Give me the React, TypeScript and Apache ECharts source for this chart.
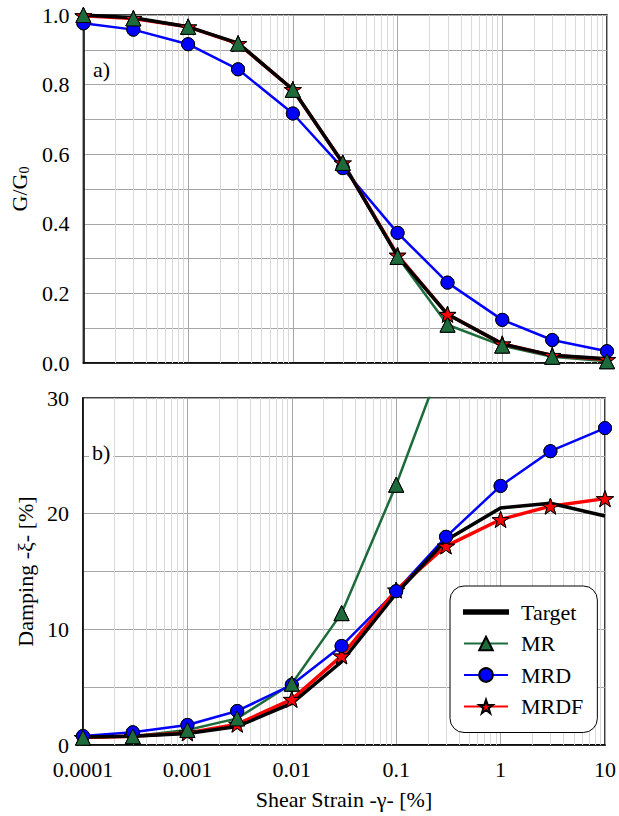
import React, { useEffect, useRef } from "react";
import * as echarts from "echarts";

const strain = [0.0001, 0.0003, 0.001, 0.003, 0.01, 0.03, 0.1, 0.3, 1, 3, 10];

const ggTarget = [1.0, 0.992, 0.966, 0.919, 0.786, 0.575, 0.307, 0.14, 0.055, 0.022, 0.012];
const ggMR = [1.0, 0.99, 0.966, 0.918, 0.785, 0.575, 0.305, 0.11, 0.05, 0.018, 0.005];
const ggMRD = [0.976, 0.958, 0.916, 0.844, 0.717, 0.56, 0.374, 0.231, 0.124, 0.066, 0.034];
const ggMRDF = [0.998, 0.99, 0.966, 0.918, 0.786, 0.575, 0.31, 0.14, 0.055, 0.022, 0.01];

const dTarget = [0.7, 0.75, 1.0, 1.6, 3.6, 7.2, 13.1, 17.7, 20.5, 20.9, 19.8];
const dMR = [0.63, 0.75, 1.3, 2.3, 5.3, 11.4, 22.5, 34, null, null, null];
const dMRD = [0.78, 1.1, 1.73, 2.94, 5.2, 8.56, 13.3, 18.0, 22.4, 25.4, 27.4];
const dMRDF = [0.65, 0.75, 1.05, 1.8, 3.95, 7.7, 13.4, 17.2, 19.5, 20.65, 21.3];

const decades = [0.0001, 0.001, 0.01, 0.1, 1];
const minorMultipliers = [2, 3, 4, 5, 6, 7, 8, 9];

const FONT = "Liberation Serif";
const GREEN = "#1d6b3b";
const BLUE = "#0000ff";
const RED = "#ff0000";
const STAR =
  "path://M50,0 L61.8,35.1 L98.9,35.1 L69.1,56.7 L80.3,91.9 L50,70 L19.7,91.9 L30.9,56.7 L1.1,35.1 L38.2,35.1 Z";
const LINE_ICON = "path://M0,0 M44,17 M0,6.75 L44,6.75 L44,10.25 L0,10.25 Z";

function pairs(vals: (number | null)[]) {
  return strain.map((x, i) => [x, vals[i]]);
}

export default function App() {
  const ref = useRef<HTMLDivElement>(null);
  useEffect(() => {
    if (!ref.current) return;
    const chart = echarts.init(ref.current, undefined, { renderer: "svg" });
    const minorX: number[][] = [];
    decades.forEach((d) => minorMultipliers.forEach((m) => minorX.push([d * m, 0])));

    const grids = [
      { left: 83, top: 15, width: 524, height: 348 },
      { left: 83, top: 398, width: 524, height: 347 },
    ];

    const xAxisBase = (gi: number, showLabel: boolean) => ({
      type: "log",
      logBase: 10,
      gridIndex: gi,
      min: 0.0001,
      max: 10,
      axisLine: { show: true, lineStyle: { color: "#000", width: 1.5 } },
      axisTick: { show: false },
      splitLine: { show: true, lineStyle: { color: "#a6a6a6", width: 1 } },
      axisLabel: {
        show: showLabel,
        fontFamily: FONT,
        fontSize: 22,
        color: "#000",
        margin: 13,
        formatter: (v: number) => String(Number(v.toPrecision(1))),
      },
      name: showLabel ? "Shear Strain -γ- [%]" : "",
      nameLocation: "middle",
      nameGap: 43,
      nameTextStyle: { fontFamily: FONT, fontSize: 22, color: "#000" },
    });

    const minorSeries = (gi: number) => ({
      type: "custom",
      xAxisIndex: gi,
      yAxisIndex: gi,
      silent: true,
      z: 1,
      data: minorX,
      clip: true,
      renderItem: (params: any, api: any) => {
        const cs = params.coordSys;
        const x = Math.round(api.coord([api.value(0), gi === 0 ? 0.5 : 15])[0]) + 0.5;
        return {
          type: "line",
          shape: { x1: x, y1: cs.y, x2: x, y2: cs.y + cs.height },
          style: { stroke: "#d9d9d9", lineWidth: 1 },
        };
      },
    });

    const lineSeries = (
      gi: number,
      name: string,
      vals: (number | null)[],
      color: string,
      width: number,
      symbol: string,
      size: number,
      z: number
    ) => ({
      type: "line",
      name,
      xAxisIndex: gi,
      yAxisIndex: gi,
      data: pairs(vals),
      z,
      clip: true,
      symbol,
      symbolSize: size,
      symbolKeepAspect: true,
      showSymbol: symbol !== "none",
      lineStyle: { color, width },
      itemStyle: { color, borderColor: "#000", borderWidth: 1 },
      emphasis: { disabled: true },
    });

    const markerSeries = (
      gi: number,
      vals: (number | null)[],
      color: string,
      symbol: string,
      size: number,
      z: number
    ) => ({
      type: "scatter",
      xAxisIndex: gi,
      yAxisIndex: gi,
      data: pairs(vals).filter((p) => p[1] !== null),
      z,
      silent: true,
      clip: true,
      symbol,
      symbolSize: size,
      symbolKeepAspect: true,
      itemStyle: { color, borderColor: "#000", borderWidth: 1, opacity: 1 },
    });

    const series: any[] = [];
    [0, 1].forEach((gi) => {
      const T = gi === 0 ? ggTarget : dTarget;
      const A = gi === 0 ? ggMR : dMR;
      const B = gi === 0 ? ggMRD : dMRD;
      const C = gi === 0 ? ggMRDF : dMRDF;
      series.push(minorSeries(gi));
      series.push(lineSeries(gi, "Target", T, "#000", 3.5, "none", 0, 5));
      series.push(lineSeries(gi, "MR", A, GREEN, 2.5, "triangle", 15, 3));
      series.push(lineSeries(gi, "MRD", B, BLUE, 2.5, "circle", 13, 3));
      series.push(lineSeries(gi, "MRDF", C, RED, 3.5, STAR, 17, 4));
      series.push(markerSeries(gi, C, RED, STAR, 17, 6));
      series.push(markerSeries(gi, B, BLUE, "circle", 13, 7));
      series.push(markerSeries(gi, A, GREEN, "triangle", 15, 8));
    });

    const yLabel = {
      fontFamily: FONT,
      fontSize: 22,
      color: "#000",
      margin: 14,
    };

    chart.setOption({
      animation: false,
      backgroundColor: "#fff",
      grid: grids.map((g) => ({
        ...g,
        show: true,
        borderColor: "#000",
        borderWidth: 1.5,
        backgroundColor: "transparent",
      })),
      xAxis: [xAxisBase(0, false), xAxisBase(1, true)],
      yAxis: [
        {
          type: "value",
          gridIndex: 0,
          min: 0,
          max: 1,
          interval: 0.2,
          axisLine: { show: true, lineStyle: { color: "#000", width: 1.5 } },
          axisTick: { show: false },
          splitLine: { show: true, lineStyle: { color: "#a6a6a6", width: 1 } },
          minorSplitLine: { show: true, lineStyle: { color: "#a6a6a6", width: 1 } },
          minorTick: { show: false, splitNumber: 2 },
          axisLabel: { ...yLabel, formatter: (v: number) => v.toFixed(1) },
          name: "G/G{sub|0}",
          nameLocation: "middle",
          nameGap: 47,
          nameTextStyle: {
            fontFamily: FONT,
            fontSize: 22,
            color: "#000",
            rich: {
              sub: { fontFamily: FONT, fontSize: 14, color: "#000", padding: [10, 0, 0, 0] },
            },
          },
        },
        {
          type: "value",
          gridIndex: 1,
          min: 0,
          max: 30,
          interval: 10,
          axisLine: { show: true, lineStyle: { color: "#000", width: 1.5 } },
          axisTick: { show: false },
          splitLine: { show: true, lineStyle: { color: "#a6a6a6", width: 1 } },
          minorSplitLine: { show: true, lineStyle: { color: "#a6a6a6", width: 1 } },
          minorTick: { show: false, splitNumber: 2 },
          axisLabel: { ...yLabel },
          name: "Damping -ξ- [%]",
          nameLocation: "middle",
          nameGap: 46,
          nameTextStyle: { fontFamily: FONT, fontSize: 22, color: "#000" },
        },
      ],
      legend: {
        data: [{ name: "Target", icon: LINE_ICON }, "MR", "MRD", "MRDF"],
        orient: "vertical",
        left: 450,
        top: 586,
        padding: [15, 14, 15, 13],
        itemGap: 9.5,
        itemWidth: 44,
        itemHeight: 17,
        borderColor: "#000",
        borderWidth: 1,
        borderRadius: 14,
        backgroundColor: "#fff",
        selectedMode: false,
        textStyle: { fontFamily: FONT, fontSize: 22, color: "#000", padding: [0, 0, 0, 8] },
      },
      graphic: [
        {
          type: "text",
          left: 93,
          top: 58,
          z: 20,
          style: { text: "a)", fontFamily: FONT, fontSize: 22, fill: "#000" },
        },
        {
          type: "text",
          left: 89,
          top: 441,
          z: 20,
          style: {
            text: "b)",
            fontFamily: FONT,
            fontSize: 22,
            fill: "#000",
            backgroundColor: "#fff",
            padding: [0, 3, 0, 3],
          },
        },
      ],
      series,
    });
    return () => chart.dispose();
  }, []);
  return (
    <div
      ref={ref}
      style={{ position: "fixed", left: 0, top: 0, width: 619, height: 816, background: "#fff" }}
    />
  );
}
